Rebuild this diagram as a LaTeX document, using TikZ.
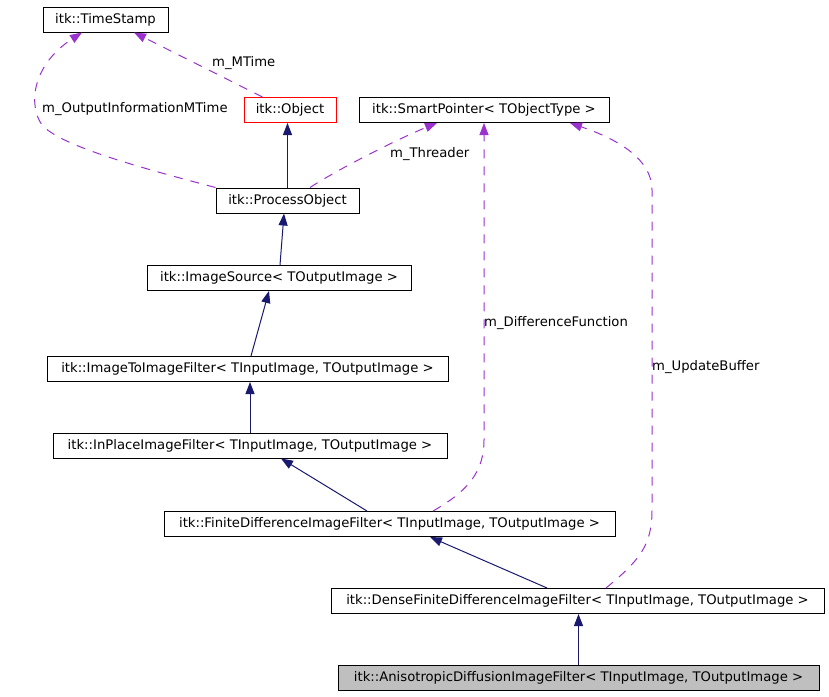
\documentclass[tikz,border=0pt]{standalone}
\usepackage{fontspec}
\setmainfont{DejaVu Sans}
\usetikzlibrary{arrows.meta}
\definecolor{inhblue}{HTML}{191970}
\definecolor{usepurple}{HTML}{9A32CD}
\definecolor{boxgray}{HTML}{BFBFBF}
\tikzset{
  cls/.style={draw=black, line width=1pt, minimum height=25pt, inner sep=0pt, font=\fontsize{13.2}{15}\selectfont},
  inh/.style={color=inhblue, line width=1pt, -{Triangle[length=12pt,width=9pt]}},
  usage/.style={color=usepurple, line width=1pt, dash pattern=on 9pt off 8pt, -{Triangle[length=12pt,width=9pt]}},
  lbl/.style={font=\fontsize{13.2}{15}\selectfont, inner sep=0pt, anchor=west}
}

\begin{document}
\begin{tikzpicture}[x=1pt,y=-1pt]
\useasboundingbox (0,0) rectangle (829,696);
%%%%%%%%% classes
\node[cls, minimum width=125] (ts) at (105.5,19.5) {itk::TimeStamp};
\node[cls, minimum width=92, draw=red] (obj) at (290,110) {itk::Object};
\node[cls, minimum width=250] (sp) at (484,110) {itk::SmartPointer< TObjectType >};
\node[cls, minimum width=143] (po) at (287.5,200.5) {itk::ProcessObject};
\node[cls, minimum width=264] (is) at (279,278) {itk::ImageSource< TOutputImage >};
\node[cls, minimum width=401] (i2i) at (247.5,369) {itk::ImageToImageFilter< TInputImage, TOutputImage >};
\node[cls, minimum width=394] (ip) at (250,445.5) {itk::InPlaceImageFilter< TInputImage, TOutputImage >};
\node[cls, minimum width=451] (fd) at (389.5,524) {itk::FiniteDifferenceImageFilter< TInputImage, TOutputImage >};
\node[cls, minimum width=493] (dfd) at (577.5,601) {itk::DenseFiniteDifferenceImageFilter< TInputImage, TOutputImage >};
\node[cls, minimum width=481, fill=boxgray] (adf) at (578.5,677.5) {itk::AnisotropicDiffusionImageFilter< TInputImage, TOutputImage >};

%%%%%%%%% inheritance
\draw[inh] (po.north) -- (po.north |- obj.south);
\draw[inh] ([xshift=1]is.north) -- ([xshift=-3.5]po.south);
\draw[inh] ([xshift=3.5]i2i.north) -- ([xshift=-10]is.south);
\draw[inh] (ip.north) -- (ip.north |- i2i.south);
\draw[inh] ([xshift=-22.5]fd.north) -- ([xshift=31]ip.south);
\draw[inh] ([xshift=-30.5]dfd.north) -- ([xshift=40.5]fd.south);
\draw[inh] (adf.north) -- (adf.north |- dfd.south);

%%%%%%%%% members
\draw[usage] ([xshift=19]obj.north west) -- ([xshift=28.5]ts.south);
\node[lbl] (mtime) at (212,63) {m\_MTime};

\draw[usage] (po.north west) .. controls (130,165) and (60,145) .. (42,125)
   .. controls (28,105) and (32,65) .. ([xshift=-23.5]ts.south);
\node[lbl] (outinfo) at (42,109) {m\_OutputInformationMTime};

\draw[usage] ([xshift=22.5]po.north) .. controls (340,168) and (400,138) .. ([xshift=-47]sp.south);
\node[lbl] (thr) at (390,154) {m\_Threader};

\draw[usage] ([xshift=43.5]fd.north) .. controls (470,490) and (484,470) .. (484,440) -- (sp.south);
\node[lbl] (difffn) at (484,323) {m\_DifferenceFunction};

\draw[usage] ([xshift=28.5]dfd.north) .. controls (640,560) and (652,545) .. (652,510)
   -- (652,190) .. controls (652,160) and (620,140) .. ([xshift=86]sp.south);
\node[lbl] (updbuf) at (652,367) {m\_UpdateBuffer};
\end{tikzpicture}
\end{document}
